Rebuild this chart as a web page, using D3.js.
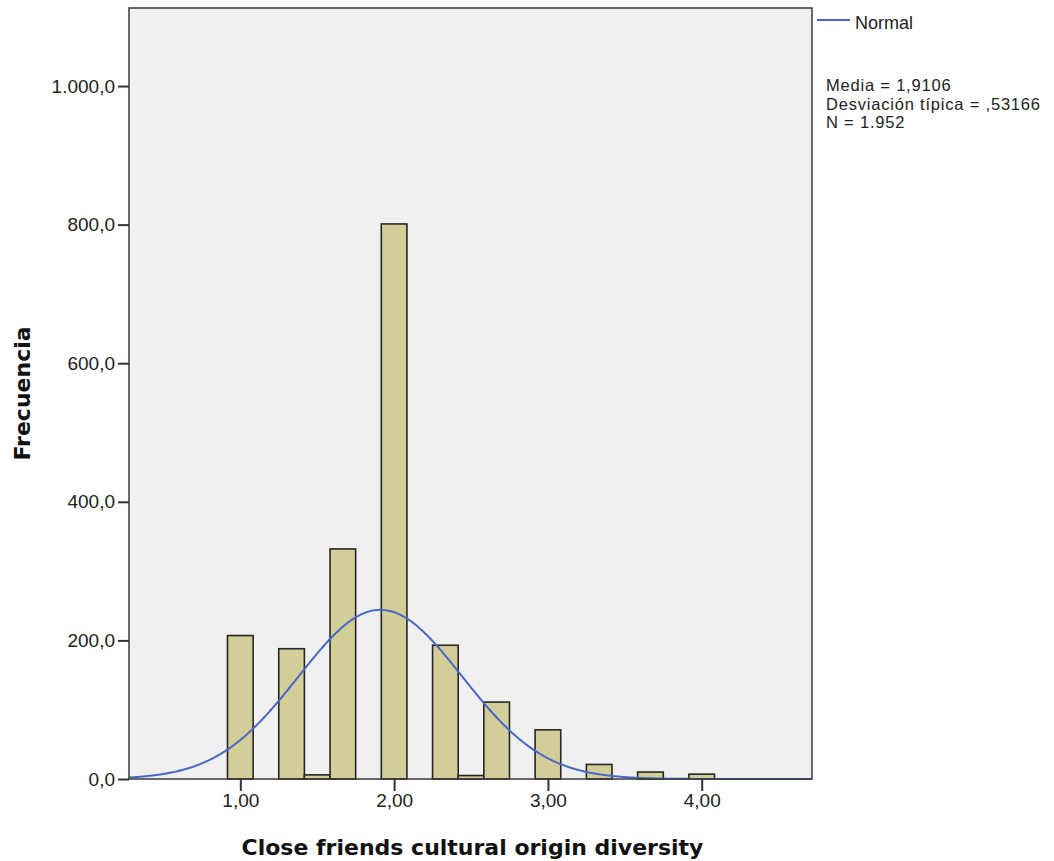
<!DOCTYPE html>
<html>
<head>
<meta charset="utf-8">
<script src="https://cdn.jsdelivr.net/npm/d3@7"></script>
<style>
  html, body { margin: 0; padding: 0; background: #fff; }
  svg { display: block; }
</style>
</head>
<body>
<svg id="chart" width="1054" height="861"></svg>
<script>
// Histogram bins (centre of each bin) and their frequencies
const binCenters = [1.0, 4/3, 1.5, 5/3, 2.0, 7/3, 2.5, 8/3, 3.0, 10/3, 11/3, 4.0];
const frequencies = [207, 188, 6, 332, 801, 193, 5, 111, 71, 21, 10, 7];
const binWidth = 1 / 6;

// Summary statistics of the variable
const mean = 1.9106;
const sd = 0.53166;
const n = 1952;

// Axis ticks and labels
const yTicks = [0, 200, 400, 600, 800, 1000];
const yTickLabels = ["0,0", "200,0", "400,0", "600,0", "800,0", "1.000,0"];
const xTicks = [1, 2, 3, 4];
const xTickLabels = ["1,00", "2,00", "3,00", "4,00"];
const legendStats = ["Media = 1,9106", "Desviación típica = ,53166", "N = 1.952"];

const svg = d3.select("#chart");
const plot = { left: 129, right: 812, top: 8, bottom: 779 };

const x = d3.scaleLinear().domain([0.2763, 4.717]).range([plot.left, plot.right]);
const y = d3.scaleLinear().domain([0, 1112.6]).range([plot.bottom, plot.top]);

// plot background
svg.append("rect")
  .attr("x", plot.left).attr("y", plot.top)
  .attr("width", plot.right - plot.left).attr("height", plot.bottom - plot.top)
  .attr("fill", "#f0f0f0");

// bars
const bars = binCenters.map((c, i) => ({ c, v: frequencies[i] }));
svg.append("g").selectAll("rect").data(bars).join("rect")
  .attr("x", d => x(d.c - binWidth / 2))
  .attr("width", d => x(d.c + binWidth / 2) - x(d.c - binWidth / 2))
  .attr("y", d => y(d.v))
  .attr("height", d => y(0) - y(d.v))
  .attr("fill", "#d3cd98")
  .attr("stroke", "#262626")
  .attr("stroke-width", 1.6);

// fitted normal curve, scaled to counts per bin
const pdf = v => Math.exp(-0.5 * ((v - mean) / sd) ** 2) / (sd * Math.sqrt(2 * Math.PI));
const curvePts = d3.range(0, 601).map(i => {
  const v = x.domain()[0] + (x.domain()[1] - x.domain()[0]) * i / 600;
  return [v, n * binWidth * pdf(v)];
});
svg.append("path")
  .datum(curvePts)
  .attr("fill", "none")
  .attr("stroke", "#4a67c6")
  .attr("stroke-width", 2)
  .attr("d", d3.line().x(d => x(d[0])).y(d => y(d[1])));

// frame
svg.append("rect")
  .attr("x", plot.left).attr("y", plot.top)
  .attr("width", plot.right - plot.left).attr("height", plot.bottom - plot.top)
  .attr("fill", "none").attr("stroke", "#3a3a3a").attr("stroke-width", 1.5);

// y axis
const yAxis = d3.axisLeft(y).tickValues(yTicks)
  .tickFormat((d, i) => yTickLabels[i]).tickSize(11).tickPadding(3);
const gy = svg.append("g").attr("transform", `translate(${plot.left},0)`).call(yAxis);
gy.select(".domain").remove();
gy.selectAll(".tick line").attr("stroke", "#333").attr("stroke-width", 2);
gy.selectAll(".tick text")
  .attr("font-family", "'Liberation Sans', Arial, sans-serif")
  .attr("font-size", 19).attr("fill", "#222");

// x axis
const xAxis = d3.axisBottom(x).tickValues(xTicks)
  .tickFormat((d, i) => xTickLabels[i]).tickSize(12).tickPadding(3);
const gx = svg.append("g").attr("transform", `translate(0,${plot.bottom})`).call(xAxis);
gx.select(".domain").remove();
gx.selectAll(".tick line").attr("stroke", "#333").attr("stroke-width", 2);
gx.selectAll(".tick text")
  .attr("font-family", "'Liberation Sans', Arial, sans-serif")
  .attr("font-size", 19).attr("fill", "#222");

// axis titles
svg.append("text")
  .attr("x", (plot.left + plot.right) / 2 + 2).attr("y", 855)
  .attr("text-anchor", "middle")
  .attr("font-family", "'DejaVu Sans', Verdana, sans-serif")
  .attr("font-weight", "bold").attr("font-size", 22).attr("fill", "#111")
  .text("Close friends cultural origin diversity");

svg.append("text")
  .attr("transform", `translate(30,${(plot.top + plot.bottom) / 2}) rotate(-90)`)
  .attr("text-anchor", "middle")
  .attr("font-family", "'DejaVu Sans', Verdana, sans-serif")
  .attr("font-weight", "bold").attr("font-size", 22).attr("fill", "#111")
  .text("Frecuencia");

// legend
svg.append("line")
  .attr("x1", 817).attr("x2", 850).attr("y1", 20).attr("y2", 20)
  .attr("stroke", "#4a67c6").attr("stroke-width", 2);
svg.append("text")
  .attr("x", 855).attr("y", 29)
  .attr("font-family", "'Liberation Sans', Arial, sans-serif")
  .attr("font-size", 18).attr("fill", "#222")
  .text("Normal");

// summary statistics block
svg.append("g").selectAll("text").data(legendStats).join("text")
  .attr("x", 826).attr("y", (d, i) => 91 + i * 18.5)
  .attr("font-family", "'Liberation Sans', Arial, sans-serif")
  .attr("font-size", 16.5).attr("letter-spacing", 0.8).attr("fill", "#222")
  .text(d => d);
</script>
</body>
</html>
